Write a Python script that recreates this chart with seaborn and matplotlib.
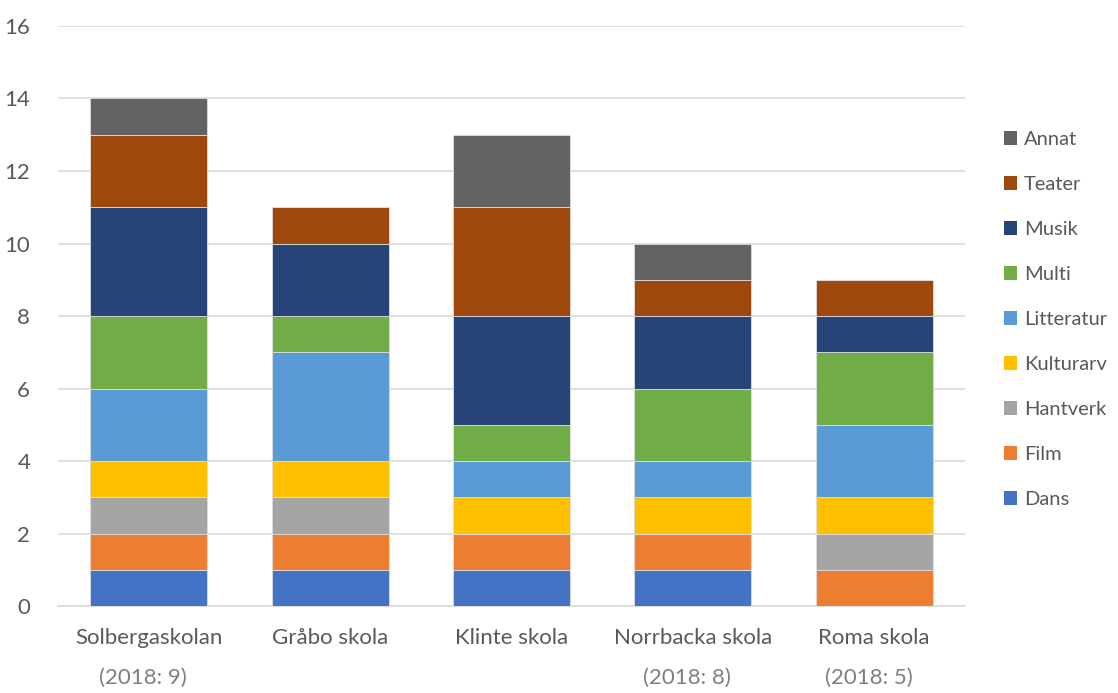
import matplotlib.pyplot as plt
import numpy as np
import pandas as pd
import seaborn as sns
from matplotlib.patches import Patch

# -----------------------------------------------------------------------------
# Data
# -----------------------------------------------------------------------------
schools = ["Solbergaskolan", "Gråbo skola", "Klinte skola", "Norrbacka skola", "Roma skola"]
notes = ["(2018: 9)", "", "", "(2018: 8)", "(2018: 5)"]

categories = ["Dans", "Film", "Hantverk", "Kulturarv", "Litteratur",
              "Multi", "Musik", "Teater", "Annat"]

dans = [1, 1, 1, 1, 0]
film = [1, 1, 1, 1, 1]
hantverk = [1, 1, 0, 0, 1]
kulturarv = [1, 1, 1, 1, 1]
litteratur = [2, 3, 1, 1, 2]
multi = [2, 1, 1, 2, 2]
musik = [3, 2, 3, 2, 1]
teater = [2, 1, 3, 1, 1]
annat = [1, 0, 2, 1, 0]

colors = ["#4472C4", "#ED7D31", "#A5A5A5", "#FFC000", "#5B9BD5",
          "#70AD47", "#264478", "#9E480E", "#636363"]

df = pd.DataFrame({
    "school": schools,
    "Dans": dans, "Film": film, "Hantverk": hantverk, "Kulturarv": kulturarv,
    "Litteratur": litteratur, "Multi": multi, "Musik": musik,
    "Teater": teater, "Annat": annat,
})

# -----------------------------------------------------------------------------
# Plot
# -----------------------------------------------------------------------------
sns.set_theme(style="white")
plt.rcParams["font.family"] = ["Lato", "DejaVu Sans"]
text_color = "#595959"
fs = 16

fig = plt.figure(figsize=(11.18, 6.93), dpi=100)
ax = fig.add_axes([0.0519, 0.1255, 0.8111, 0.837])

bottom = np.zeros(len(schools))
for cat, col in zip(categories, colors):
    sns.barplot(data=df, x="school", y=cat, order=schools, color=col,
                width=0.645, bottom=bottom, errorbar=None,
                edgecolor="#DDDDDD", linewidth=0.6, saturation=1, ax=ax,
                zorder=3)
    bottom = bottom + df[cat].to_numpy()

ax.set_xlim(-0.5, 4.5)
ax.set_ylim(0, 16)
ax.set_yticks(range(0, 17, 2))
ax.yaxis.grid(True, color="#D9D9D9", linewidth=1.2, zorder=0)
ax.set_axisbelow(True)
for s in ["top", "right", "left"]:
    ax.spines[s].set_visible(False)
ax.spines["bottom"].set_color("#D9D9D9")
ax.spines["bottom"].set_linewidth(1.2)
ax.set_xlabel("")
ax.set_ylabel("")
ax.tick_params(axis="both", length=0, labelsize=fs, colors=text_color)
ax.tick_params(axis="y", pad=20)
ax.tick_params(axis="x", pad=16)

for i, note in enumerate(notes):
    if note:
        ax.text(i - 0.03, -0.123, note, transform=ax.get_xaxis_transform(),
                ha="center", va="center", fontsize=fs, color="#7F7F7F")

handles = [Patch(facecolor=c, edgecolor="none") for c in colors][::-1]
labels = categories[::-1]
fig.legend(handles, labels, loc="upper left", bbox_to_anchor=(0.898, 0.811),
           frameon=False, fontsize=14.5, labelcolor=text_color,
           handlelength=0.65, handleheight=0.65, handletextpad=0.35,
           labelspacing=1.39, borderaxespad=0, borderpad=0)

fig.savefig("out.png", dpi=100)
